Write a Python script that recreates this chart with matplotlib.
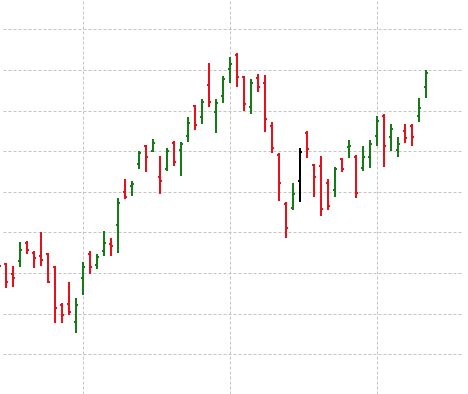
import matplotlib
matplotlib.use("Agg")
import matplotlib.pyplot as plt

# OHLC values (one bar per trading day)
opens = [21.22, 21.06, 19.83, 21.47, 23.72, 22.45, 22.12, 22.29, 20.73, 16.05,
         16.17, 13.99, 19.43, 22.33, 20.97, 22.70, 23.56, 25.90, 30.00, 30.70,
         33.38, 35.67, 35.05, 31.77, 32.80, 36.04, 35.14, 36.90, 40.52, 39.20,
         43.18, 39.85, 41.82, 45.09, 46.84, 44.09, 40.47, 44.06, 43.42, 38.12,
         34.52, 28.49, 27.99, 31.32, 37.23, 33.23, 33.17, 31.13, 30.27, 34.00,
         35.51, 34.31, 32.92, 34.27, 36.86, 39.32, 36.68, 35.14, 37.48, 38.09,
         39.32, 42.93]
highs = [21.34, 21.18, 20.85, 23.84, 23.97, 22.70, 25.04, 22.41, 20.85, 16.26,
         18.92, 16.91, 21.38, 22.70, 22.29, 25.16, 24.34, 29.19, 31.57, 31.36,
         34.98, 35.79, 36.45, 34.34, 35.35, 36.24, 36.12, 39.16, 40.65, 41.38,
         45.81, 41.38, 44.31, 46.63, 47.05, 44.25, 43.84, 44.46, 44.37, 38.58,
         34.77, 28.70, 31.04, 35.35, 37.48, 33.41, 34.40, 31.57, 33.01, 34.11,
         36.37, 34.52, 35.63, 36.37, 39.32, 39.53, 38.34, 36.70, 38.34, 38.34,
         41.50, 44.99]
lows = [18.51, 18.10, 18.30, 20.76, 22.29, 20.57, 20.89, 18.72, 13.79, 13.79,
        14.82, 12.56, 17.28, 19.83, 20.44, 22.08, 22.12, 22.41, 29.06, 29.47,
        32.76, 32.39, 34.85, 29.68, 32.59, 33.20, 31.97, 36.18, 37.54, 38.40,
        40.40, 37.27, 40.89, 43.39, 42.90, 39.98, 39.53, 42.32, 37.39, 34.73,
        28.89, 24.34, 27.75, 28.77, 34.21, 29.29, 27.01, 27.69, 29.35, 32.46,
        34.19, 29.26, 32.61, 32.88, 35.57, 33.10, 35.05, 34.24, 35.96, 35.67,
        38.55, 41.50]
closes = [20.89, 18.92, 19.43, 22.82, 22.82, 21.80, 21.59, 18.84, 15.62, 14.82,
          15.15, 16.05, 20.76, 20.76, 22.00, 23.72, 23.31, 28.57, 29.31, 30.95,
          34.80, 34.31, 35.96, 31.36, 35.07, 33.70, 35.84, 38.52, 38.22, 41.07,
          41.08, 40.92, 43.92, 45.73, 44.16, 40.76, 43.42, 42.93, 38.95, 35.42,
          31.11, 25.59, 29.72, 34.93, 35.30, 31.85, 27.83, 28.28, 32.76, 32.80,
          35.69, 29.88, 34.31, 35.88, 38.71, 35.69, 37.69, 35.84, 36.58, 36.77,
          40.35, 44.66]
highlighted = [43]  # the one bar drawn in black

days = list(range(len(opens)))
up_color = '#167a16'
down_color = '#e3121b'

colors = []
for i in days:
    if i in highlighted:
        colors.append('black')
    elif closes[i] >= opens[i]:
        colors.append(up_color)
    else:
        colors.append(down_color)

fig = plt.figure(figsize=(4.68, 3.94), dpi=100)
ax = fig.add_axes([0, 0, 1, 1])

# dashed grid
for y in range(10, 51, 5):
    ax.axhline(y, xmin=3/468, xmax=462/468, color='#c4c4c4',
               linewidth=0.72, linestyle=(0, (3, 2)), zorder=0)
for x in [12, 33, 54]:
    ax.axvline(x, color='#c4c4c4', linewidth=0.72,
               linestyle=(0, (3, 2)), zorder=0)

tick = 0.3
lw = 1.45
ax.vlines(days, lows, highs, colors=colors, linewidth=lw, zorder=2)
ax.hlines(opens, [d - tick for d in days], days, colors=colors, linewidth=lw, zorder=2)
ax.hlines(closes, days, [d + tick for d in days], colors=colors, linewidth=lw, zorder=2)

ax.set_xlim(1/7, 469/7)
ax.set_ylim(5.09, 53.61)
ax.axis('off')

fig.savefig('out.png', dpi=100)
